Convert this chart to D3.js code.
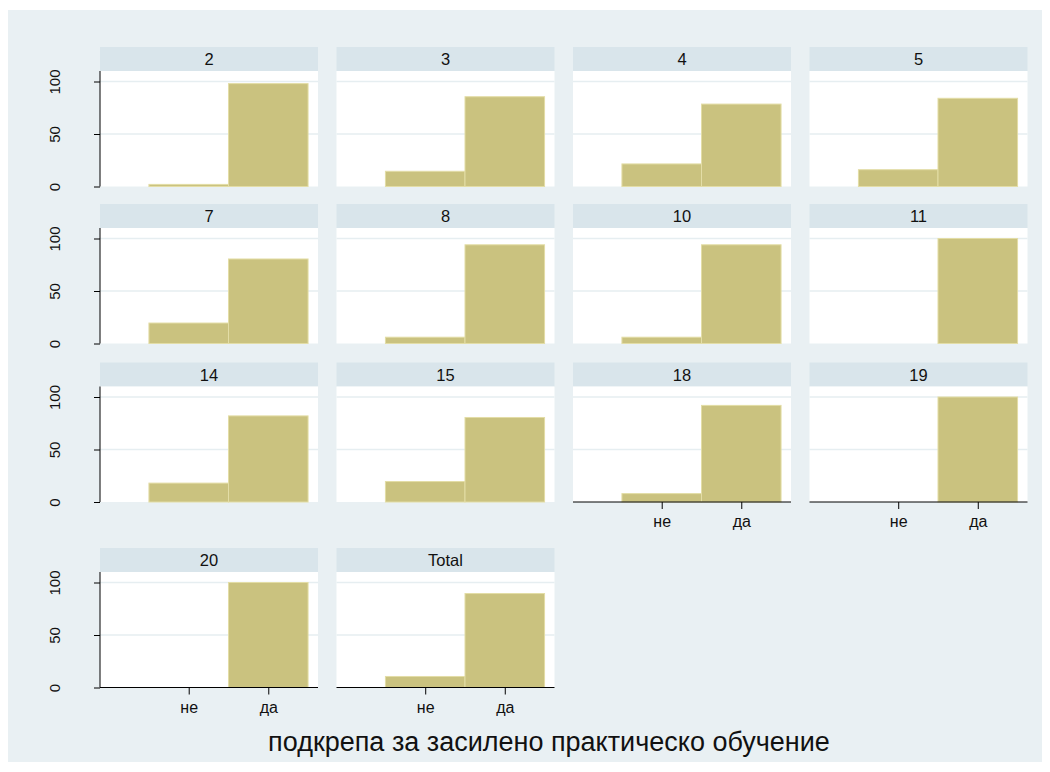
<!DOCTYPE html>
<html><head><meta charset="utf-8">
<script src="https://cdn.jsdelivr.net/npm/d3@7"></script>
<style>body{margin:0;background:#fff}svg{display:block;font-family:"Liberation Sans",Arial,sans-serif}</style>
</head><body><svg id="c" width="1050" height="772"></svg>
<script>
const groups = ["2","3","4","5","7","8","10","11","14","15","18","19","20","Total"];
const categories = ["не","да"];
const noValues  = [2, 14.5, 21.5, 16, 19.5, 6, 6, 0, 18, 19.5, 8, 0, 0, 10.5];
const yesValues = [98, 85.5, 78.5, 84, 80.5, 94, 94, 100, 82, 80.5, 92, 100, 100, 89.5];
const yTicks = [0, 50, 100];
const xTitle = "подкрепа за засилено практическо обучение";

const svg = d3.select("#c");
svg.append("rect").attr("x",8).attr("y",10).attr("width",1034).attr("height",752).attr("fill","#e9f0f3");

const ncol = 4;
const colX = [100, 336.5, 573, 809.5];
const rowTop = [47, 204, 362.5, 548];
const pw = 218, stripH = 24, ph = 115.5;

const x = d3.scaleLinear().domain([-1.115, 1.625]).range([0, pw]);
const y = d3.scaleLinear().domain([0, 110]).range([ph, 0]);
const FF = '"Liberation Sans",Arial,sans-serif';

const nPanels = groups.length;
groups.forEach((g, i) => {
  const r = Math.floor(i / ncol), c = i % ncol;
  const gx = colX[c], gy = rowTop[r];
  const p = svg.append("g").attr("transform", `translate(${gx},${gy})`);
  p.append("rect").attr("x",0).attr("y",0).attr("width",pw).attr("height",stripH).attr("fill","#d9e5eb");
  p.append("text").attr("x",pw/2).attr("y",stripH/2+6).attr("text-anchor","middle")
    .attr("font-size",16.5).attr("fill","#111").text(g);
  const plot = p.append("g").attr("transform",`translate(0,${stripH})`);
  plot.append("rect").attr("width",pw).attr("height",ph).attr("fill","#fff");
  plot.selectAll("line.grid").data(yTicks.filter(t=>t>0)).join("line")
    .attr("x1",0).attr("x2",pw).attr("y1",d=>y(d)).attr("y2",d=>y(d))
    .attr("stroke","#e6eef1").attr("stroke-width",1.4);
  const vals = [noValues[i], yesValues[i]];
  plot.selectAll("rect.bar").data(vals.map((v,k)=>({v,k})).filter(d=>d.v>0)).join("rect")
    .attr("class","bar")
    .attr("x",d=>x(d.k-0.5)).attr("width",d=>x(d.k+0.5)-x(d.k-0.5))
    .attr("y",d=>y(d.v)).attr("height",d=>y(0)-y(d.v))
    .attr("fill","#cac27f").attr("stroke","#e3dda6").attr("stroke-width",1);
  if (c === 0) {
    const ya = plot.append("g").call(d3.axisLeft(y).tickValues(yTicks).tickSize(6));
    ya.select(".domain").attr("d",`M0,0V${ph}`).attr("stroke","#000");
    ya.selectAll(".tick line").attr("stroke","#000");
    ya.selectAll(".tick text").attr("font-size",15).attr("fill","#111")
      .attr("font-family",FF)
      .attr("transform","rotate(-90)").attr("text-anchor","middle")
      .attr("x",0).attr("y",-40).attr("dy",0);
  }
  if (i + ncol >= nPanels) {
    const xa = plot.append("g").attr("transform",`translate(0,${ph})`)
      .call(d3.axisBottom(x).tickValues([0,1]).tickFormat(d=>categories[d]).tickSize(7).tickPadding(7));
    xa.select(".domain").attr("d",`M0,0H${pw}`).attr("stroke","#000");
    xa.selectAll(".tick line").attr("stroke","#000");
    xa.selectAll(".tick text").attr("font-size",16).attr("fill","#111").attr("font-family",FF);
  }
});

svg.append("text").attr("x",549).attr("y",751).attr("text-anchor","middle")
  .attr("font-size",27).attr("fill","#111").text(xTitle);
</script></body></html>
